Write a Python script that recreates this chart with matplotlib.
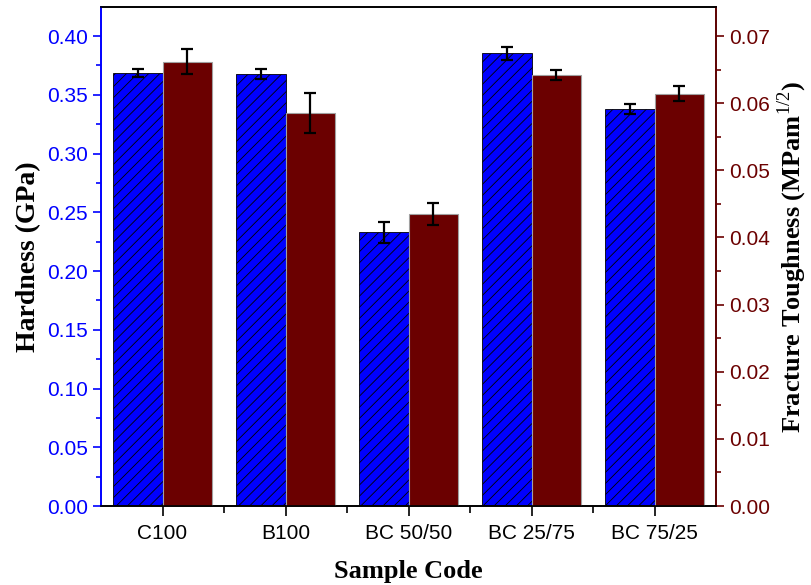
import numpy as np
import matplotlib
matplotlib.use("Agg")
import matplotlib.pyplot as plt
from matplotlib.ticker import MultipleLocator, FormatStrFormatter

plt.rcParams['hatch.linewidth'] = 0.6
plt.rcParams['mathtext.fontset'] = 'custom'
plt.rcParams['mathtext.rm'] = 'Liberation Serif'
plt.rcParams['mathtext.bf'] = 'Liberation Serif:bold'

# data
samples = ['C100', 'B100', 'BC 50/50', 'BC 25/75', 'BC 75/25']
hardness = [0.3688, 0.3677, 0.233, 0.3855, 0.338]
hardness_err = [0.0034, 0.0040, 0.0090, 0.0055, 0.0045]
toughness = [0.0662, 0.0585, 0.0435, 0.0642, 0.0614]
toughness_err = [0.0018, 0.0030, 0.0016, 0.0008, 0.0011]

blue = '#0000FF'
red = '#6B0000'
x = np.arange(len(samples))
w = 0.4
errstyle = dict(ecolor='black', elinewidth=1.6, capthick=1.6)

fig = plt.figure(figsize=(8.12, 5.85), dpi=100)
ax = fig.add_axes([0.1244, 0.135, 0.7574, 0.853])
ax2 = ax.twinx()

ax.bar(x - w / 2, hardness, w, yerr=hardness_err, color=blue, edgecolor='black',
       linewidth=0.6, hatch='///', capsize=4, error_kw=errstyle, zorder=2)
ax2.bar(x + w / 2, toughness, w, yerr=toughness_err, color=red, edgecolor='#a0a0a0',
        linewidth=0.8, capsize=4, error_kw=errstyle, zorder=2)

ax.set_xlim(-0.5, len(samples) - 0.5)
ax.set_ylim(0, 0.4247)
ax2.set_ylim(0, 0.4247 * 0.175)

ax.set_xticks(x)
ax.set_xticklabels(samples, family='Liberation Sans')
ax.set_xticks(x[:-1] + 0.5, minor=True)
ax.yaxis.set_major_locator(MultipleLocator(0.05))
ax.yaxis.set_minor_locator(MultipleLocator(0.025))
ax2.yaxis.set_major_locator(MultipleLocator(0.01))
ax2.yaxis.set_minor_locator(MultipleLocator(0.005))
ax.yaxis.set_major_formatter(FormatStrFormatter('%.2f'))
ax2.yaxis.set_major_formatter(FormatStrFormatter('%.2f'))

ax.tick_params(axis='x', which='major', direction='out', length=7, width=1.2, colors='black', labelsize=15, pad=6)
ax.tick_params(axis='x', which='minor', direction='out', length=5, width=1.2, colors='black')
ax.tick_params(axis='y', which='major', direction='out', length=6, width=1.2, colors=blue, labelsize=15)
ax.tick_params(axis='y', which='minor', direction='out', length=3.5, width=1.2, colors=blue)
ax2.tick_params(axis='y', which='major', direction='out', length=6, width=1.2, colors=red, labelsize=15)
ax2.tick_params(axis='y', which='minor', direction='out', length=3.5, width=1.2, colors=red)
for lab in ax.get_yticklabels() + ax2.get_yticklabels():
    lab.set_family('Liberation Sans')

ax.spines['left'].set_color(blue)
ax2.spines['left'].set_color(blue)
ax2.spines['right'].set_color(red)
for s in ['left', 'right', 'top', 'bottom']:
    ax.spines[s].set_linewidth(1.2)
    ax2.spines[s].set_linewidth(1.2)

ax.set_xlabel('Sample Code', family='Liberation Serif', fontweight='bold', fontsize=19, labelpad=12)
ax.set_ylabel('Hardness (GPa)', family='Liberation Serif', fontweight='bold', fontsize=20, labelpad=4)
ax2.set_ylabel(r'Fracture Toughness (MPam$^{1/2}$)', family='Liberation Serif',
               fontweight='bold', fontsize=19, labelpad=4)

fig.savefig('out.png', dpi=100)
